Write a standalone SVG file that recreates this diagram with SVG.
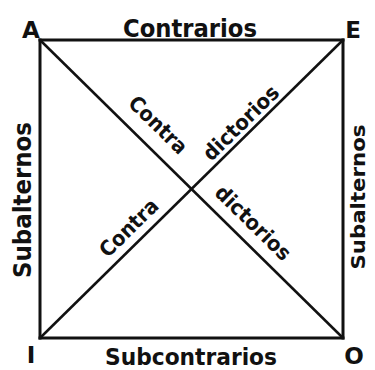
<svg xmlns="http://www.w3.org/2000/svg" width="375" height="370" viewBox="0 0 375 370">
<style>
.t{font-family:"DejaVu Sans","Liberation Sans",sans-serif;font-weight:bold;fill:#111}
.edge{stroke:#111;stroke-width:3;fill:none;stroke-linecap:square}
.diag{stroke:#111;stroke-width:2.5;fill:none}
</style>
<rect width="375" height="370" fill="#fff"/>
<g id="connectors">
<line class="edge" x1="40" y1="40" x2="343" y2="40"/>
<line class="edge" x1="40" y1="338" x2="343" y2="338"/>
<line class="edge" x1="40" y1="40" x2="40" y2="338"/>
<line class="edge" x1="343" y1="40" x2="343" y2="338"/>
<line class="diag" x1="40" y1="40" x2="343" y2="338"/>
<line class="diag" x1="343" y1="40" x2="40" y2="338"/>
</g>
<g id="A"><text class="t" x="31" y="38" font-size="23" text-anchor="middle">A</text></g>
<g id="E"><text class="t" x="353" y="38" font-size="23" text-anchor="middle">E</text></g>
<g id="I"><text class="t" x="31" y="363" font-size="23" text-anchor="middle">I</text></g>
<g id="O"><text class="t" x="354" y="364" font-size="23" text-anchor="middle">O</text></g>
<g id="labels">
<text class="t" x="190" y="37" font-size="25" text-anchor="middle" textLength="134" lengthAdjust="spacingAndGlyphs">Contrarios</text>
<text class="t" x="191" y="365" font-size="23" text-anchor="middle" textLength="172" lengthAdjust="spacingAndGlyphs">Subcontrarios</text>
<text class="t" transform="translate(31,200) rotate(-90)" font-size="24" text-anchor="middle" textLength="156" lengthAdjust="spacingAndGlyphs">Subalternos</text>
<text class="t" transform="translate(365,197) rotate(-90)" font-size="20" text-anchor="middle" textLength="145" lengthAdjust="spacingAndGlyphs">Subalternos</text>
<text class="t" transform="translate(158,125) rotate(44.4)" x="0" y="7" font-size="21" text-anchor="middle" textLength="73" lengthAdjust="spacingAndGlyphs">Contra</text>
<text class="t" transform="translate(241,123) rotate(-44.5)" x="0" y="7" font-size="21" text-anchor="middle" textLength="97" lengthAdjust="spacingAndGlyphs">dictorios</text>
<text class="t" transform="translate(129,228) rotate(-44.5)" x="0" y="7" font-size="21" text-anchor="middle" textLength="73" lengthAdjust="spacingAndGlyphs">Contra</text>
<text class="t" transform="translate(253,223) rotate(44.4)" x="0" y="7" font-size="21" text-anchor="middle" textLength="97" lengthAdjust="spacingAndGlyphs">dictorios</text>
</g>
</svg>
